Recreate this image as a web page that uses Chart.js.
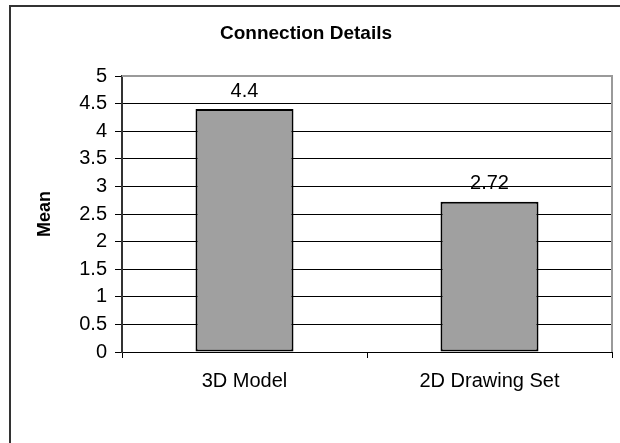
<!DOCTYPE html>
<html>
<head>
<meta charset="utf-8">
<script src="https://cdn.jsdelivr.net/npm/chart.js@4/dist/chart.umd.min.js"></script>
<style>
  html, body { margin: 0; padding: 0; background: #fff; overflow: hidden; }
  #wrap { position: relative; width: 620px; height: 443px; }
  #frame {
    position: absolute; left: 9px; top: 5px; width: 700px; height: 600px;
    border-left: 2px solid #333; border-top: 2px solid #333; box-sizing: border-box;
  }
  canvas { position: absolute; left: 0; top: 0; }
</style>
</head>
<body>
<div id="wrap">
  <div id="frame"></div>
  <canvas id="chart" width="620" height="443"></canvas>
</div>
<script>
const chartTitle = 'Connection Details';
const axisTitle = 'Mean';
const categories = ['3D Model', '2D Drawing Set'];
const meanValues = [4.4, 2.72];
const meanLabels = ['4.4', '2.72'];
const yMin = 0;
const yMax = 5;
const yStep = 0.5;

const FONT = '"Liberation Sans", Arial, sans-serif';

// Gray frame on the top and right sides of the plot area
const plotFrame = {
  id: 'plotFrame',
  beforeDatasetsDraw(chart) {
    const { ctx, chartArea: a } = chart;
    ctx.save();
    ctx.strokeStyle = '#9a9a9a';
    ctx.lineWidth = 2;
    ctx.beginPath();
    ctx.moveTo(a.left, a.top);
    ctx.lineTo(a.right, a.top);
    ctx.lineTo(a.right, a.bottom);
    ctx.stroke();
    ctx.restore();
  }
};

// Value labels above each bar
const valueLabels = {
  id: 'valueLabels',
  afterDatasetsDraw(chart) {
    const { ctx } = chart;
    const meta = chart.getDatasetMeta(0);
    ctx.save();
    ctx.font = '20px ' + FONT;
    ctx.fillStyle = '#000';
    ctx.textAlign = 'center';
    ctx.textBaseline = 'bottom';
    meta.data.forEach((bar, i) => {
      ctx.fillText(meanLabels[i], bar.x, bar.y - 8);
    });
    ctx.restore();
  }
};

new Chart(document.getElementById('chart'), {
  type: 'bar',
  data: {
    labels: categories,
    datasets: [{
      data: meanValues,
      backgroundColor: '#a0a0a0',
      borderColor: '#000',
      borderWidth: 2,
      borderSkipped: false,
      barPercentage: 0.4,
      categoryPercentage: 1
    }]
  },
  options: {
    responsive: false,
    animation: false,
    devicePixelRatio: 1,
    layout: { padding: { left: 0, right: 8, top: 0, bottom: 0 } },
    plugins: {
      legend: { display: false },
      tooltip: { enabled: false },
      title: {
        display: true,
        text: chartTitle,
        color: '#000',
        font: { family: FONT, size: 19, weight: 'bold' },
        padding: { top: 22, bottom: 31.2 }
      }
    },
    scales: {
      x: {
        afterFit(scale) { scale.height = 91; },
        grid: {
          drawOnChartArea: false,
          color: '#000',
          tickLength: 6,
          offset: true
        },
        border: { color: '#000', width: 1 },
        ticks: { color: '#000', font: { family: FONT, size: 20 }, padding: 11 }
      },
      y: {
        min: yMin,
        max: yMax,
        afterFit(scale) { scale.width = 122; },
        grid: {
          color: (c) => (c.tick && c.tick.value === yMax ? 'rgba(0,0,0,0)' : '#000'),
          tickColor: '#000',
          lineWidth: 1,
          tickLength: 7
        },
        border: { color: '#333', width: 2 },
        ticks: {
          stepSize: yStep,
          color: '#000',
          font: { family: FONT, size: 20 },
          padding: 8,
          callback: (v) => String(Math.round(v * 10) / 10)
        },
        title: {
          display: true,
          text: axisTitle,
          color: '#000',
          font: { family: FONT, size: 18, weight: 'bold' },
          padding: { top: 34 }
        }
      }
    }
  },
  plugins: [plotFrame, valueLabels]
});
</script>
</body>
</html>
